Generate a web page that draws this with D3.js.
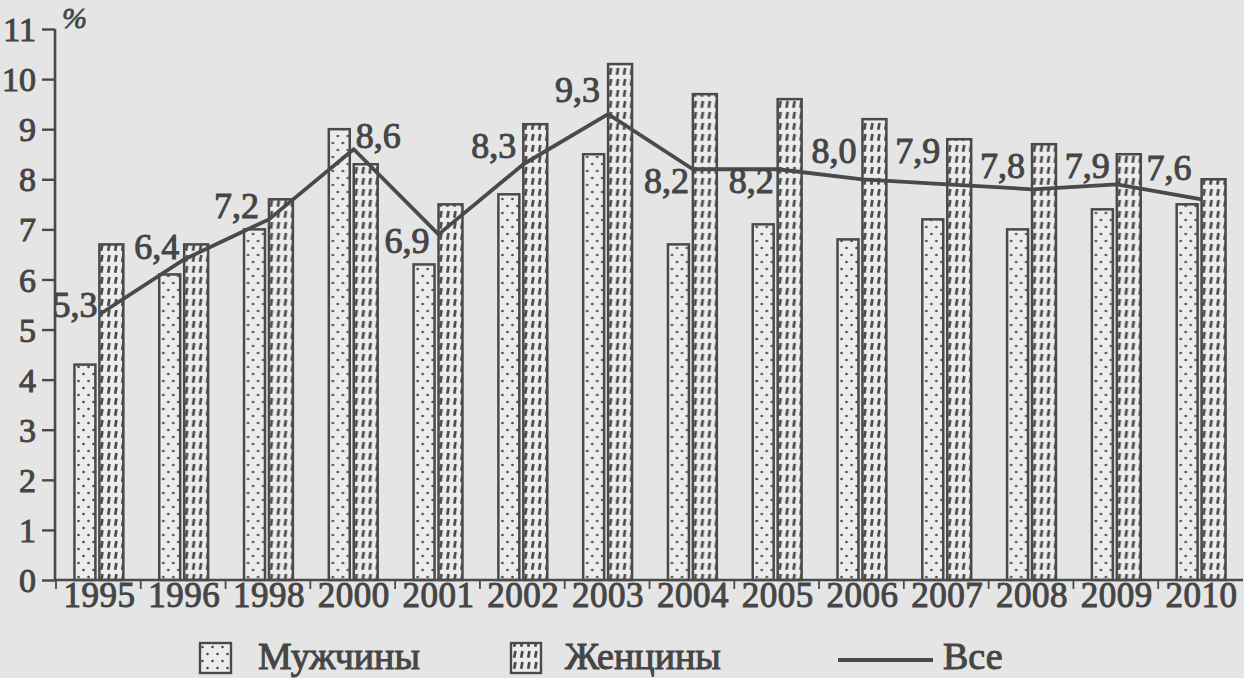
<!DOCTYPE html>
<html>
<head>
<meta charset="utf-8">
<script src="https://cdn.jsdelivr.net/npm/d3@7"></script>
<style>
  html, body { margin: 0; padding: 0; background: #e5e5e5; }
  svg text { font-family: "Liberation Serif", "DejaVu Serif", serif; fill: #464646; }
</style>
</head>
<body>
<div id="chart"></div>
<script>
const WIDTH = 1244;
const HEIGHT = 678;

// data
const years = ['1995', '1996', '1998', '2000', '2001', '2002', '2003', '2004', '2005', '2006', '2007', '2008', '2009', '2010'];
const men = [4.3, 6.1, 7.0, 9.0, 6.3, 7.7, 8.5, 6.7, 7.1, 6.8, 7.2, 7.0, 7.4, 7.5];
const women = [6.7, 6.7, 7.6, 8.3, 7.5, 9.1, 10.3, 9.7, 9.6, 9.2, 8.8, 8.7, 8.5, 8.0];
const all = [5.3, 6.4, 7.2, 8.6, 6.9, 8.3, 9.3, 8.2, 8.2, 8.0, 7.9, 7.8, 7.9, 7.6];
const yTicks = [0, 1, 2, 3, 4, 5, 6, 7, 8, 9, 10, 11];

// where each value label of the line sits relative to its point
const labelOffsets = [
  [-2, 2, 'end'], [-5, 0, 'end'], [-10, -1, 'end'], [2, -1, 'start'],
  [-9, 19, 'end'], [-7, -6, 'end'], [-8, -12, 'end'], [-4, 24, 'end'],
  [-4, 24, 'end'], [-6, -16, 'end'], [-7, -21, 'end'], [-7, -11, 'end'],
  [-7, -6, 'end'], [-10, -19, 'end']
];

const INK = '#4a4a4a';
const TXT = '#454545';
const LEFT = 55, RIGHT = 1243, TOP = 29, BOTTOM = 580;

const svg = d3.select('#chart')
  .append('svg')
  .attr('width', WIDTH)
  .attr('height', HEIGHT);

svg.append('rect')
  .attr('width', WIDTH)
  .attr('height', HEIGHT)
  .attr('fill', '#e5e5e5');

// hatch patterns of the print
const defs = svg.append('defs');

const dots = defs.append('pattern')
  .attr('id', 'dots')
  .attr('patternUnits', 'userSpaceOnUse')
  .attr('width', 10).attr('height', 14);
dots.append('rect').attr('width', 10).attr('height', 14).attr('fill', '#ececec');
dots.append('circle').attr('cx', 2.5).attr('cy', 3).attr('r', 1.3).attr('fill', INK);
dots.append('circle').attr('cx', 7.5).attr('cy', 10).attr('r', 1.3).attr('fill', INK);

const dashes = defs.append('pattern')
  .attr('id', 'dashes')
  .attr('patternUnits', 'userSpaceOnUse')
  .attr('width', 7).attr('height', 11);
dashes.append('rect').attr('width', 7).attr('height', 11).attr('fill', '#ececec');
dashes.append('line')
  .attr('x1', 4.4).attr('y1', 2)
  .attr('x2', 3.2).attr('y2', 8.8)
  .attr('stroke', INK).attr('stroke-width', 2.7);

// scales
const x0 = d3.scaleBand()
  .domain(years)
  .range([LEFT + 1, RIGHT])
  .padding(0);

const x1 = d3.scaleBand()
  .domain(['men', 'women'])
  .range([0, x0.bandwidth()])
  .paddingInner(0.08)
  .paddingOuter(0.74);

const y = d3.scaleLinear()
  .domain([0, 11])
  .range([BOTTOM, TOP]);

// bars
const groups = svg.append('g')
  .selectAll('g')
  .data(years)
  .join('g')
  .attr('transform', d => `translate(${x0(d)},0)`);

groups.append('rect')
  .attr('x', x1('men'))
  .attr('y', (d, i) => y(men[i]))
  .attr('width', x1.bandwidth() - 2)
  .attr('height', (d, i) => BOTTOM - y(men[i]))
  .attr('fill', 'url(#dots)')
  .attr('stroke', INK)
  .attr('stroke-width', 2.5);

groups.append('rect')
  .attr('x', x1('women'))
  .attr('y', (d, i) => y(women[i]))
  .attr('width', x1.bandwidth() + 1)
  .attr('height', (d, i) => BOTTOM - y(women[i]))
  .attr('fill', 'url(#dashes)')
  .attr('stroke', INK)
  .attr('stroke-width', 2.5);

// y axis
const yAxis = svg.append('g')
  .attr('transform', `translate(${LEFT},0)`)
  .call(d3.axisLeft(y).tickValues(yTicks).tickSize(13).tickPadding(6).tickFormat(d3.format('d')));
yAxis.select('.domain').attr('stroke', INK).attr('stroke-width', 2.6).attr('d', `M0,${TOP}V${BOTTOM}`);
yAxis.selectAll('.tick line').attr('stroke', INK).attr('stroke-width', 2.4);
yAxis.selectAll('.tick text')
  .attr('font-size', 34)
  .attr('fill', TXT)
  .attr('stroke', TXT).attr('stroke-width', 1)
  .attr('dy', '0.34em')
  .attr('x', -19)
  .style('font-family', '"Liberation Serif", serif');

// x axis
svg.append('line')
  .attr('x1', LEFT).attr('x2', RIGHT)
  .attr('y1', BOTTOM).attr('y2', BOTTOM)
  .attr('stroke', INK).attr('stroke-width', 2.6);

svg.append('g')
  .selectAll('line')
  .data(years)
  .join('line')
  .attr('x1', d => x0(d)).attr('x2', d => x0(d))
  .attr('y1', BOTTOM).attr('y2', BOTTOM + 9)
  .attr('stroke', INK).attr('stroke-width', 1.8);

svg.append('g')
  .selectAll('text')
  .data(years)
  .join('text')
  .attr('x', d => x0(d) + x0.bandwidth() / 2 + 1)
  .attr('y', 607)
  .attr('text-anchor', 'middle')
  .attr('font-size', 35)
  .attr('letter-spacing', 0.5)
  .attr('stroke', TXT).attr('stroke-width', 1)
  .text(d => d);

svg.append('text')
  .attr('x', 62)
  .attr('y', 28)
  .attr('font-size', 30)
  .attr('font-style', 'italic')
  .attr('stroke', TXT).attr('stroke-width', 0.8)
  .text('%');

// total line
const line = d3.line()
  .x((d, i) => x0(years[i]) + x0.bandwidth() / 2 + 1)
  .y(d => y(d));

svg.append('path')
  .datum(all)
  .attr('d', line)
  .attr('fill', 'none')
  .attr('stroke', INK)
  .attr('stroke-width', 3.8)
  .attr('stroke-linejoin', 'round');

svg.append('g')
  .selectAll('text')
  .data(all)
  .join('text')
  .attr('x', (d, i) => x0(years[i]) + x0.bandwidth() / 2 + 1 + labelOffsets[i][0])
  .attr('y', (d, i) => y(d) + labelOffsets[i][1])
  .attr('text-anchor', (d, i) => labelOffsets[i][2])
  .attr('font-size', 36)
  .attr('stroke', TXT).attr('stroke-width', 1)
  .text(d => d3.format('.1f')(d).replace('.', ','));

// legend
const legend = svg.append('g');

legend.append('rect')
  .attr('x', 200).attr('y', 643).attr('width', 31).attr('height', 30)
  .attr('fill', 'url(#dots)').attr('stroke', INK).attr('stroke-width', 2.4);
legend.append('text')
  .attr('x', 258).attr('y', 669)
  .attr('font-size', 38)
  .attr('stroke', TXT).attr('stroke-width', 1)
  .text('Мужчины');

legend.append('rect')
  .attr('x', 511).attr('y', 643).attr('width', 30).attr('height', 30)
  .attr('fill', 'url(#dashes)').attr('stroke', INK).attr('stroke-width', 2.4);
legend.append('text')
  .attr('x', 565).attr('y', 669)
  .attr('font-size', 38)
  .attr('stroke', TXT).attr('stroke-width', 1)
  .text('Женцины');

legend.append('line')
  .attr('x1', 838).attr('x2', 933)
  .attr('y1', 660).attr('y2', 660)
  .attr('stroke', INK).attr('stroke-width', 3.8);
legend.append('text')
  .attr('x', 943).attr('y', 669)
  .attr('font-size', 38)
  .attr('stroke', TXT).attr('stroke-width', 1)
  .text('Все');
</script>
</body>
</html>
